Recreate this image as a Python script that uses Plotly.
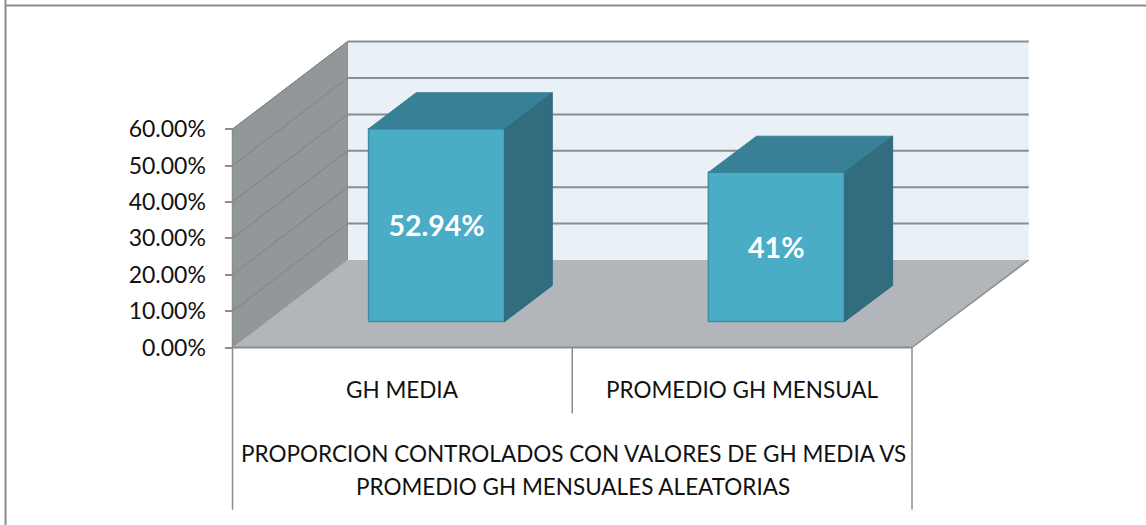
import plotly.graph_objects as go

# data
categories = ["GH MEDIA", "PROMEDIO GH MENSUAL"]
values = [52.94, 41.0]
value_labels = ["52.94%", "41%"]
y_ticks = [0, 10, 20, 30, 40, 50, 60]
y_tick_labels = ["0.00%", "10.00%", "20.00%", "30.00%", "40.00%", "50.00%", "60.00%"]
group_lines = ["PROPORCION CONTROLADOS CON VALORES DE GH MEDIA VS", "PROMEDIO GH MENSUALES ALEATORIAS"]

# oblique projection: how far the back of the box shifts, in axis units
DEPTH_X = 0.3385
DEPTH_Y = 24.04
BACK_STRETCH = 0.0025
BAR_WIDTH = 0.4
BAR_FRONT = 0.297
BAR_BACK = 0.709

FONT = "Lato"
TEXT = "#111111"
GRID = "#8c8c8c"


def polygon(points):
    path = "M " + " L ".join(f"{x},{y}" for x, y in points) + " Z"
    return dict(type="path", path=path, xref="x", yref="y", layer="below")


def depth_point(x, y, depth):
    return x * (1 + BACK_STRETCH * depth) + depth * DEPTH_X, y + depth * DEPTH_Y


n = len(categories)
top = y_ticks[-1]
shapes = []

# back wall, side wall, floor
shapes.append(polygon([depth_point(0, 0, 1), depth_point(n, 0, 1), depth_point(n, top, 1), depth_point(0, top, 1)])
              | dict(fillcolor="#e9f0f6", line=dict(width=0)))
shapes.append(polygon([(0, 0), depth_point(0, 0, 1), depth_point(0, top, 1), (0, top)])
              | dict(fillcolor="#92979a", line=dict(width=1, color="#8a8e90")))
shapes.append(polygon([(0, 0), (n, 0), depth_point(n, 0, 1), depth_point(0, 0, 1)])
              | dict(fillcolor="#b2b6ba", line=dict(width=0)))

# gridlines across both walls
for t in y_ticks:
    x0, y0 = depth_point(0, t, 1)
    x1, y1 = depth_point(n, t, 1)
    if t > 0:
        shapes.append(dict(type="line", xref="x", yref="y", x0=x0, y0=y0, x1=x1, y1=y1, layer="below",
                           line=dict(color=GRID, width=2)))
        shapes.append(dict(type="line", xref="x", yref="y", x0=0, y0=t, x1=x0, y1=y0, layer="below",
                           line=dict(color="#7d8183", width=1)))

# floor edges and axis lines
x1, y1 = depth_point(n, 0, 1)
shapes.append(dict(type="line", xref="x", yref="y", x0=0, y0=0, x1=n, y1=0, layer="below", line=dict(color=GRID, width=2)))
shapes.append(dict(type="line", xref="x", yref="y", x0=n, y0=0, x1=x1, y1=y1, layer="below", line=dict(color=GRID, width=1.5)))
shapes.append(dict(type="line", xref="x", yref="y", x0=0, y0=0, x1=0, y1=top, layer="below", line=dict(color=GRID, width=1.5)))

# category dividers below the floor
for x, low in [(0, -44.6), (1, -18.1), (2, -44.6)]:
    shapes.append(dict(type="line", xref="x", yref="y", x0=x, y0=0, x1=x, y1=low, layer="below",
                       line=dict(color=GRID, width=1.5)))

# outer frame of the chart
shapes.append(dict(type="line", xref="paper", yref="paper", x0=0.0048, y0=1.0, x1=0.0048, y1=0, line=dict(color="#8c8c8c", width=2)))
shapes.append(dict(type="line", xref="paper", yref="paper", x0=0.0048, y0=0.9895, x1=1, y1=0.9895, line=dict(color="#8c8c8c", width=2)))

fig = go.Figure()

# front faces
fig.add_trace(go.Bar(
    x=[i + 0.5 + BAR_FRONT * DEPTH_X for i in range(n)],
    y=values,
    base=BAR_FRONT * DEPTH_Y,
    width=BAR_WIDTH,
    marker=dict(color="#4bacc6", line=dict(color="#3f8ea6", width=1.5)),
    text=value_labels,
    textposition="inside",
    insidetextanchor="middle",
    textangle=0,
    textfont=dict(family=FONT, size=28.5, color="white", weight="bold"),
    hoverinfo="skip",
))

# top and side faces
for i, v in enumerate(values):
    left = i + 0.5 - BAR_WIDTH / 2
    right = left + BAR_WIDTH
    p = [depth_point(left, v, BAR_FRONT), depth_point(right, v, BAR_FRONT),
         depth_point(right, v, BAR_BACK), depth_point(left, v, BAR_BACK)]
    q = [depth_point(right, 0, BAR_FRONT), depth_point(right, 0, BAR_BACK),
         depth_point(right, v, BAR_BACK), depth_point(right, v, BAR_FRONT)]
    for pts, colour in [(p, "#378095"), (q, "#316c7f")]:
        fig.add_trace(go.Scatter(
            x=[a for a, _ in pts] + [pts[0][0]],
            y=[b for _, b in pts] + [pts[0][1]],
            mode="lines",
            fill="toself",
            fillcolor=colour,
            line=dict(color=colour, width=1),
            hoverinfo="skip",
        ))

label_font = dict(family=FONT, size=22.5, color=TEXT)
annotations = [
    dict(x=i + 0.5, y=-11.6, xref="x", yref="y", text=c, showarrow=False, font=label_font)
    for i, c in enumerate(categories)
]
for line, y in zip(group_lines, [-29.2, -38.2]):
    annotations.append(dict(x=1.003, y=y, xref="x", yref="y", text=line, showarrow=False, font=label_font))

fig.update_layout(
    width=1146,
    height=525,
    margin=dict(l=0, r=0, t=0, b=0),
    paper_bgcolor="white",
    plot_bgcolor="white",
    showlegend=False,
    shapes=shapes,
    annotations=annotations,
    xaxis=dict(range=[-0.6843, 2.6887], visible=False, fixedrange=True),
    yaxis=dict(
        range=[-48.76, 95.47],
        anchor="free",
        position=232.5 / 1146,
        side="left",
        tickmode="array",
        tickvals=y_ticks,
        ticktext=y_tick_labels,
        ticks="outside",
        ticklen=8,
        tickcolor=GRID,
        tickwidth=1.5,
        ticklabelstandoff=14,
        tickfont=dict(family=FONT, size=23, color=TEXT),
        showgrid=False,
        zeroline=False,
        showline=False,
        fixedrange=True,
    ),
)

fig.write_html(
    "out.html",
    config=dict(displayModeBar=False),
    post_script="document.body.style.margin='0';document.body.style.overflow='hidden';",
)
